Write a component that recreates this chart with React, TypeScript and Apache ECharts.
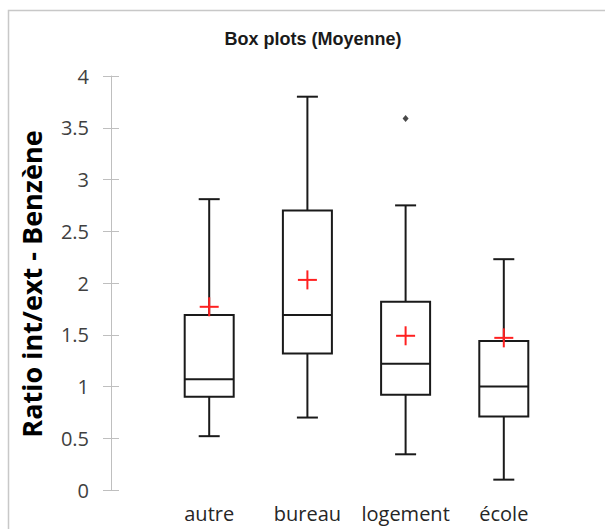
import React, { useEffect, useRef } from "react";
import * as echarts from "echarts";

const categories = ["autre", "bureau", "logement", "école"];
const minima = [0.52, 0.7, 0.345, 0.1];
const q1 = [0.9, 1.32, 0.92, 0.71];
const medians = [1.07, 1.69, 1.22, 1.0];
const q3 = [1.69, 2.7, 1.82, 1.44];
const maxima = [2.81, 3.8, 2.75, 2.23];
const means = [1.77, 2.03, 1.49, 1.47];
const outlierCategories = ["logement"];
const outlierValues = [3.59];
const yTicks = { min: 0, max: 4, interval: 0.5 };

export default function App() {
  const ref = useRef<HTMLDivElement>(null);
  useEffect(() => {
    if (!ref.current) return;
    const chart = echarts.init(ref.current, undefined, { renderer: "svg" });
    const boxData = categories.map((_, i) => [i + 1, minima[i], q1[i], medians[i], q3[i], maxima[i]]);
    const meanData = categories.map((_, i) => [i + 1, means[i]]);
    const outData = outlierCategories.map((c, i) => [categories.indexOf(c) + 1, outlierValues[i]]);
    const black = "#1a1a1a";
    chart.setOption({
      animation: false,
      backgroundColor: "#ffffff",
      grid: { left: 111, top: 76, width: 495, height: 414 },
      graphic: [
        {
          type: "rect",
          z: -10,
          shape: { x: 8.5, y: 10.5, width: 700, height: 700 },
          style: { fill: "none", stroke: "#c8c8c8", lineWidth: 1.5 },
        },
        {
          type: "text",
          x: 313,
          y: 39,
          style: {
            text: "Box plots (Moyenne)",
            fontFamily: "Liberation Sans",
            fontWeight: "bold",
            fontSize: 18,
            fill: "#1a1a1a",
            textAlign: "center",
            textVerticalAlign: "middle",
          },
        },
        {
          type: "text",
          x: 31.5,
          y: 284,
          rotation: Math.PI / 2,
          style: {
            text: "Ratio int/ext - Benzène",
            fontFamily: "Open Sans",
            fontWeight: "bold",
            fontSize: 27,
            fill: "#000000",
            textAlign: "center",
            textVerticalAlign: "middle",
          },
        },
      ],
      xAxis: {
        type: "value",
        min: 0,
        max: categories.length + 1,
        interval: 1,
        axisLine: { show: false },
        axisTick: { show: false },
        splitLine: { show: false },
        axisLabel: {
          margin: 13,
          fontSize: 20,
          fontFamily: "Open Sans",
          color: "#262626",
          formatter: (v: number) => categories[v - 1] ?? "",
        },
      },
      yAxis: [
        {
          type: "value",
          position: "left",
          min: yTicks.min,
          max: yTicks.max,
          interval: yTicks.interval,
          axisLine: { show: true, lineStyle: { color: "#bfbfbf", width: 1 } },
          axisTick: { show: true, length: 8, lineStyle: { color: "#bfbfbf" } },
          splitLine: { show: false },
          axisLabel: { margin: 22, fontSize: 20, fontFamily: "Open Sans", color: "#404040" },
        },
        {
          type: "value",
          position: "left",
          offset: 0,
          min: yTicks.min,
          max: yTicks.max,
          interval: yTicks.interval,
          axisLine: { show: false },
          axisTick: { show: true, inside: true, length: 8, lineStyle: { color: "#bfbfbf" } },
          splitLine: { show: false },
          axisLabel: { show: false },
        },
      ],
      series: [
        {
          type: "custom",
          data: boxData,
          encode: { x: 0, y: [1, 2, 3, 4, 5] },
          renderItem: (params: any, api: any) => {
            const x = api.value(0);
            const lo = api.coord([x, api.value(1)]);
            const a = api.coord([x, api.value(2)]);
            const m = api.coord([x, api.value(3)]);
            const b = api.coord([x, api.value(4)]);
            const hi = api.coord([x, api.value(5)]);
            const cx = lo[0];
            const hw = 24.5;
            const cw = 10.5;
            const style = { stroke: black, lineWidth: 2, fill: "none" };
            return {
              type: "group",
              children: [
                { type: "line", shape: { x1: cx, y1: hi[1], x2: cx, y2: b[1] }, style },
                { type: "line", shape: { x1: cx - cw, y1: hi[1], x2: cx + cw, y2: hi[1] }, style },
                { type: "rect", shape: { x: cx - hw, y: b[1], width: 2 * hw, height: a[1] - b[1] }, style },
                { type: "line", shape: { x1: cx - hw, y1: m[1], x2: cx + hw, y2: m[1] }, style },
                { type: "line", shape: { x1: cx, y1: a[1], x2: cx, y2: lo[1] }, style },
                { type: "line", shape: { x1: cx - cw, y1: lo[1], x2: cx + cw, y2: lo[1] }, style },
              ],
            };
          },
        },
        {
          type: "custom",
          data: meanData,
          encode: { x: 0, y: 1 },
          z: 5,
          renderItem: (params: any, api: any) => {
            const p = api.coord([api.value(0), api.value(1)]);
            const h = 9.5;
            const style = { stroke: "#ff2020", lineWidth: 2 };
            return {
              type: "group",
              children: [
                { type: "line", shape: { x1: p[0] - h, y1: p[1], x2: p[0] + h, y2: p[1] }, style },
                { type: "line", shape: { x1: p[0], y1: p[1] - h, x2: p[0], y2: p[1] + h }, style },
              ],
            };
          },
        },
        {
          type: "scatter",
          data: outData,
          symbol: "diamond",
          symbolSize: [6, 7],
          itemStyle: { color: black },
        },
      ],
    });
    return () => chart.dispose();
  }, []);
  return (
    <div
      ref={ref}
      style={{ position: "absolute", left: 0, top: 0, width: 605, height: 529 }}
    />
  );
}
